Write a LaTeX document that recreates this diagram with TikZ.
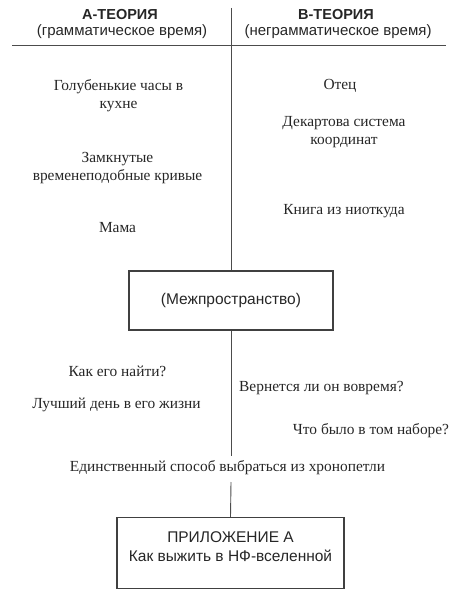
\documentclass[tikz,border=0pt]{standalone}
\usepackage{fontspec}
\setmainfont{Liberation Serif}
\newfontfamily\hsans{Liberation Sans}
\begin{document}
\begin{tikzpicture}[x=1pt,y=-1pt,
  every node/.style={inner sep=0pt, text=black!85},
  item/.style={font=\fontsize{15.4}{18}\selectfont, align=center},
  head/.style={font=\hsans\bfseries\fontsize{14.5}{16}\selectfont},
  sub/.style={font=\hsans\fontsize{15}{16}\selectfont},
  boxtxt/.style={font=\hsans\fontsize{15.5}{19}\selectfont, align=center},
  frame/.style={draw=black!75, line width=1.3pt},
  rule/.style={draw=black!70, line width=0.9pt}]
\useasboundingbox (0,0) rectangle (450,601);
% headings
\node[head] (ha) at (120,15) {А-ТЕОРИЯ};
\node[sub] (sa) at (122,32) {(грамматическое время)};
\node[head] (hb) at (336,15) {В-ТЕОРИЯ};
\node[sub] (sb) at (338,32) {(неграмматическое время)};
\coordinate (hl) at (12,45);
\coordinate (hr) at (446,45);
\draw[rule] (hl) -- (hr);
% boxes
\node[frame, minimum width=204pt, minimum height=59pt, boxtxt] (box1) at (231,300.5) {(Межпространство)};
\node[frame, minimum width=227pt, minimum height=71pt] (box2) at (230.5,553) {};
\node[boxtxt] (b2t) at (230.5,547) {ПРИЛОЖЕНИЕ А\\Как выжить в НФ-вселенной};
% left column
\node[item] (a1) at (118.5,96) {Голубенькие часы в\\кухне};
\node[item] (a2) at (117.5,168) {Замкнутые\\временеподобные кривые};
\node[item] (a3) at (117.5,228) {Мама};
% right column
\node[item] (b1) at (340,86) {Отец};
\node[item] (b2) at (344,132) {Декартова система\\координат};
\node[item] (b3) at (344,211) {Книга из ниоткуда};
% lower
\node[item] (c1) at (117.5,371) {Как его найти?};
\node[item] (c2) at (116.5,405) {Лучший день в его жизни};
\node[item, anchor=west] (d1) at (239,388) {Вернется ли он вовремя?};
\node[item] (d2) at (371,431) {Что было в том наборе?};
\node[item] (e1) at (227.5,468) {Единственный способ выбраться из хронопетли};
% vertical lines
\coordinate (top) at (231,8);
\draw[rule] (top) -- (box1.north);
\draw[rule] (box1.south) -- (231,456);
\draw[rule] (231,482) -- (box2.north);
\end{tikzpicture}
\end{document}
